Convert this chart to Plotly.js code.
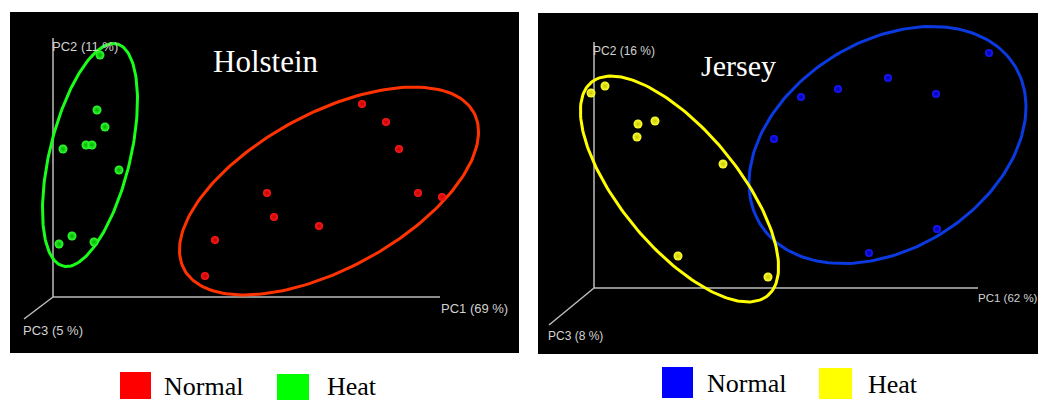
<!DOCTYPE html>
<html>
<head>
<meta charset="utf-8">
<script src="https://cdn.plot.ly/plotly-3.0.1.min.js"></script>
<style>html,body{margin:0;padding:0;background:#fff;}#chart{width:1038px;height:401px;}</style>
</head>
<body>
<div id="chart"></div>
<script>
// ---- Data (PCA scores, arbitrary units; origin of the 3D frame at 0,0) ----
const holsteinNormalPC1 = [309, 333, 346, 214, 365, 389, 221, 266, 162, 152];
const holsteinNormalPC2 = [193, 175, 148, 104, 104, 100, 80, 71, 57, 21];
const holsteinHeatPC1 = [47, 44, 52, 10, 33, 39, 66, 6, 19, 41];
const holsteinHeatPC2 = [242, 187, 170, 148, 152, 152, 127, 53, 61, 55];

const jerseyNormalPC1 = [395, 294, 244, 207, 342, 180, 343, 275];
const jerseyNormalPC2 = [235, 210, 199, 191, 194, 149, 59, 35];
const jerseyHeatPC1 = [-3, 11, 44, 61, 43, 129, 84, 174];
const jerseyHeatPC2 = [195, 202, 164, 167, 151, 124, 32, 11];

// group ellipses: [centerPC1, centerPC2, semiMajor, semiMinor, angleDeg]
const holsteinNormalEllipse = [276, 106, 164.7, 77.7, 28.4];
const holsteinHeatEllipse = [37, 142, 114.3, 40.3, 76.4];
const jerseyNormalEllipse = [293.5, 143, 149.9, 103.7, 32];
const jerseyHeatEllipse = [85.5, 99, 138.4, 58.5, -50.4];

const axisLabelsHolstein = ['PC1 (69 %)', 'PC2 (11 %)', 'PC3 (5 %)'];
const axisLabelsJersey = ['PC1 (62 %)', 'PC2 (16 %)', 'PC3 (8 %)'];
const groupNames = ['Normal', 'Heat'];
const panelTitles = ['Holstein', 'Jersey'];

// ---- helpers ----
function ellipse(p) {
  const [cx, cy, a, b, deg] = p;
  const th = deg * Math.PI / 180, xs = [], ys = [];
  for (let i = 0; i <= 200; i++) {
    const t = 2 * Math.PI * i / 200;
    xs.push(cx + a * Math.cos(t) * Math.cos(th) - b * Math.sin(t) * Math.sin(th));
    ys.push(cy + a * Math.cos(t) * Math.sin(th) + b * Math.sin(t) * Math.cos(th));
  }
  return {x: xs, y: ys};
}
function pts(x, y, color, edge, size, xa, ya) {
  return {x: x, y: y, xaxis: xa, yaxis: ya, type: 'scatter', mode: 'markers', hoverinfo: 'skip',
    marker: {color: color, size: size, gradient: {type: 'radial', color: edge}, line: {width: 0}}};
}
function ell(p, color, w, xa, ya) {
  const e = ellipse(p);
  return {x: e.x, y: e.y, xaxis: xa, yaxis: ya, type: 'scatter', mode: 'lines', hoverinfo: 'skip',
    line: {color: color, width: w}};
}

const traces = [
  ell(holsteinHeatEllipse, '#19ff19', 3, 'x', 'y'),
  ell(holsteinNormalEllipse, '#ff3300', 3, 'x', 'y'),
  pts(holsteinHeatPC1, holsteinHeatPC2, '#33ff33', '#00b000', 9, 'x', 'y'),
  pts(holsteinNormalPC1, holsteinNormalPC2, '#ff1a1a', '#c00000', 8, 'x', 'y'),
  ell(jerseyNormalEllipse, '#0a3ae0', 3, 'x2', 'y2'),
  ell(jerseyHeatEllipse, '#ffff00', 3, 'x2', 'y2'),
  pts(jerseyNormalPC1, jerseyNormalPC2, '#1a1aff', '#0000b0', 8, 'x2', 'y2'),
  pts(jerseyHeatPC1, jerseyHeatPC2, '#ffff33', '#c8c800', 9, 'x2', 'y2')
];

const W = 1038, H = 401;
const px = v => v / W, py = v => 1 - v / H;
const axGray = '#bdbdbd';

// 3D frame: [PC1 length, PC2 length, PC3 dx, PC3 dy]
const frameHolstein = [387, 259, -29, -22];
const frameJersey = [384, 246, -45, -37];

function frame(f, xr, yr) {
  const s = {type: 'line', xref: xr, yref: yr, line: {color: axGray, width: 1.5}, layer: 'below'};
  return [
    Object.assign({}, s, {x0: 0, y0: 0, x1: f[0], y1: 0}),
    Object.assign({}, s, {x0: 0, y0: 0, x1: 0, y1: f[1]}),
    Object.assign({}, s, {x0: 0, y0: 0, x1: f[2], y1: f[3]})
  ];
}
function sq(x0, x1, y0, y1, c) {
  return {type: 'rect', xref: 'paper', yref: 'paper', x0: px(x0), x1: px(x1), y0: py(y1), y1: py(y0),
    fillcolor: c, line: {width: 0}};
}

const labFont = s => ({family: 'Liberation Sans, Arial, sans-serif', size: s, color: '#d2d2d2'});
const serif = (s, c) => ({family: 'Liberation Serif, Times New Roman, serif', size: s, color: c});
function lab(text, x, y, xr, yr, size) {
  return {text: text, x: x, y: y, xref: xr, yref: yr, xanchor: 'left', yanchor: 'middle',
    showarrow: false, font: labFont(size), borderpad: 0};
}
function ptxt(text, x, y, size) {
  return {text: text, x: px(x), y: py(y), xref: 'paper', yref: 'paper', xanchor: 'left', yanchor: 'middle',
    showarrow: false, font: serif(size, '#000'), borderpad: 0};
}

const annotations = [
  lab(axisLabelsHolstein[1], -2, 251, 'x', 'y', 13),
  lab(axisLabelsHolstein[0], 387, -11, 'x', 'y', 13),
  lab(axisLabelsHolstein[2], -31, -33, 'x', 'y', 13),
  lab(axisLabelsJersey[1], -2, 237, 'x2', 'y2', 12),
  lab(axisLabelsJersey[0], 383, -10, 'x2', 'y2', 11.5),
  lab(axisLabelsJersey[2], -47, -48, 'x2', 'y2', 12),
  {text: panelTitles[0], x: 213, y: 236, xref: 'x', yref: 'y', xanchor: 'center', yanchor: 'middle',
    showarrow: false, font: serif(31, '#fff')},
  {text: panelTitles[1], x: 145, y: 222, xref: 'x2', yref: 'y2', xanchor: 'center', yanchor: 'middle',
    showarrow: false, font: serif(30, '#fff')},
  ptxt(groupNames[0], 163, 386, 26),
  ptxt(groupNames[1], 326, 386, 26),
  ptxt(groupNames[0], 706, 383, 26),
  ptxt(groupNames[1], 867, 384, 26)
];

const shapes = [].concat(
  frame(frameHolstein, 'x', 'y'),
  frame(frameJersey, 'x2', 'y2'),
  [sq(120, 151, 372, 399, '#ff0000'), sq(277, 309, 374, 400, '#00ff00'),
   sq(662, 693, 367, 398, '#0000ff'), sq(819, 852, 368, 399, '#ffff00')]
);

const hid = {visible: true, showgrid: false, zeroline: false, showticklabels: false, ticks: '', showline: false, fixedrange: true};
const layout = {
  width: W, height: H, margin: {l: 0, r: 0, t: 0, b: 0},
  paper_bgcolor: '#ffffff', plot_bgcolor: '#000000', showlegend: false,
  xaxis: Object.assign({}, hid, {domain: [px(10), px(519)], range: [-43, 466]}),
  yaxis: Object.assign({}, hid, {domain: [py(353), py(12)], range: [-56, 285]}),
  xaxis2: Object.assign({}, hid, {domain: [px(538), 1], range: [-56, 444], anchor: 'y2'}),
  yaxis2: Object.assign({}, hid, {domain: [py(354), py(13)], range: [-66, 275], anchor: 'x2'}),
  shapes: shapes, annotations: annotations
};
Plotly.newPlot('chart', traces, layout, {displayModeBar: false, staticPlot: true});
</script>
</body>
</html>
